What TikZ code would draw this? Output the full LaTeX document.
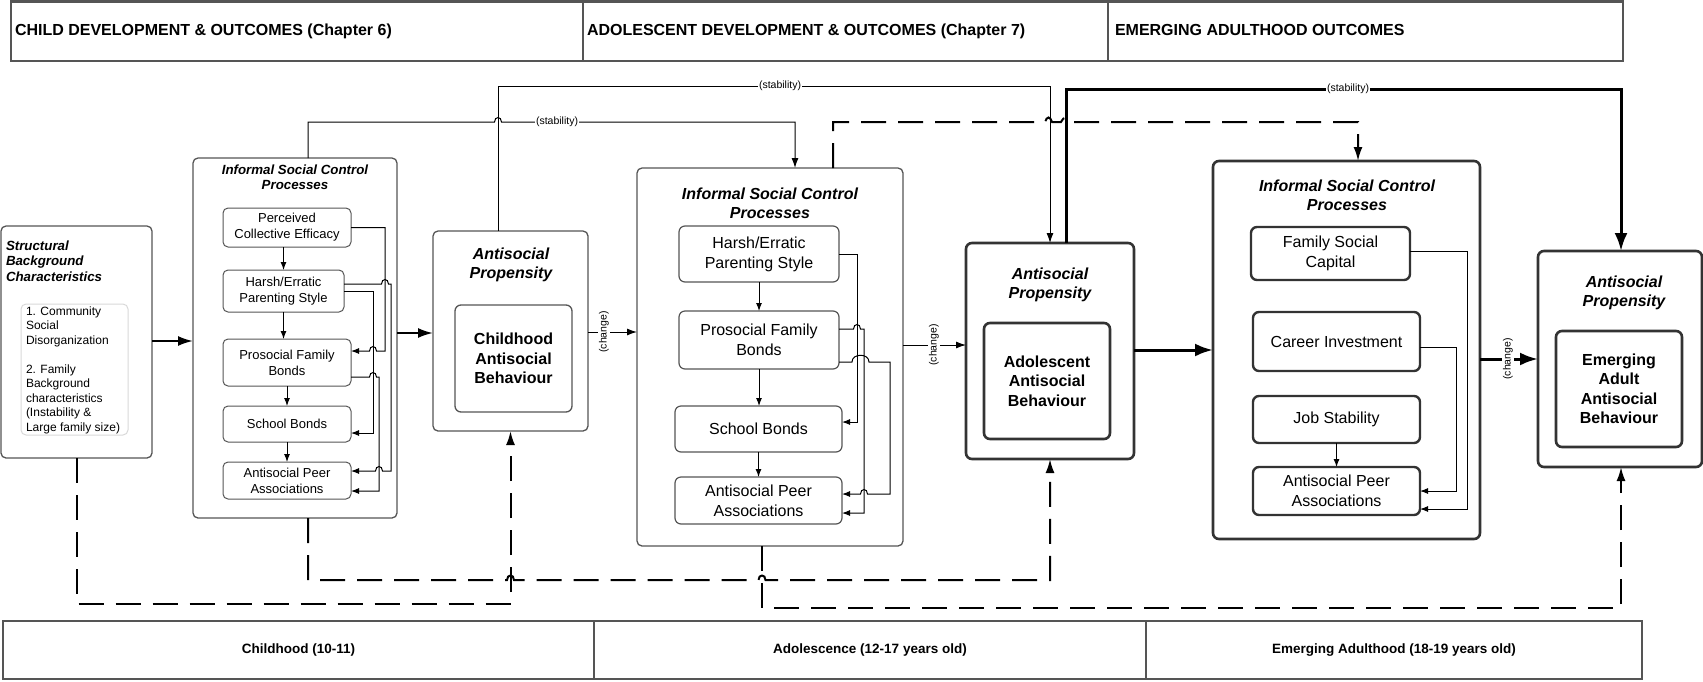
\documentclass[tikz,border=0pt]{standalone}
\usepackage{fontspec}
\setmainfont{Liberation Sans}
\usetikzlibrary{arrows.meta}
\definecolor{edgegray}{HTML}{555555}
\definecolor{darkedge}{HTML}{333333}
\definecolor{lightedge}{HTML}{D8D8D8}

\tikzset{
  every node/.style={inner sep=0pt, outer sep=0pt},
  band/.style={draw=edgegray, line width=2.6pt},
  frameA/.style={draw=edgegray, line width=1.3pt, rounded corners=5pt},
  frameB/.style={draw=darkedge, line width=2.6pt, rounded corners=6pt},
  cellA/.style={draw=edgegray, line width=1pt, rounded corners=5pt, align=center, font=\fontsize{13}{16}\selectfont},
  cellB/.style={draw=edgegray, line width=1.2pt, rounded corners=6pt, align=center, font=\fontsize{16}{20}\selectfont},
  cellC/.style={draw=darkedge, line width=2.4pt, rounded corners=6pt, align=center, font=\fontsize{16}{19.5}\selectfont},
  core/.style={align=center, font=\bfseries\fontsize{16}{19.5}\selectfont},
  ttl/.style={anchor=north, align=center, font=\bfseries\itshape\fontsize{16}{19}\selectfont},
  hdr/.style={anchor=base west, font=\bfseries\fontsize{16}{19}\selectfont},
  ftr/.style={band, font=\bfseries\fontsize{13.5}{16}\selectfont},
  lbl/.style={fill=white, inner sep=1pt, font=\fontsize{10.5}{12}\selectfont},
  fb/.style={line width=1pt, -{Latex[length=8pt,width=6pt]}},
  link/.style={line width=1pt, -{Latex[length=10pt,width=7pt]}},
  main/.style={line width=2pt, -{Latex[length=15pt,width=10pt]}},
  heavy/.style={line width=3pt, -{Latex[length=18pt,width=13pt]}},
  dashlink/.style={line width=2pt, dash pattern=on 25pt off 12pt, -{Latex[length=14pt,width=9pt]}},
  hopR/.style args={#1/#2}{insert path={-- ({#1-3.5},#2) .. controls ({#1-3.5},{#2-6}) and ({#1+3.5},{#2-6}) .. ({#1+3.5},#2)}},
  hopL/.style args={#1/#2}{insert path={-- ({#1+3.5},#2) .. controls ({#1+3.5},{#2-6}) and ({#1-3.5},{#2-6}) .. ({#1-3.5},#2)}},
}

\begin{document}
\begin{tikzpicture}[x=1pt,y=-1pt]
\useasboundingbox (0,0) rectangle (1703,681);

% ---- period headers ----
\node[band, minimum width=572pt, minimum height=59.5pt] (hdA) at (297,31.25) {};
\node[band, minimum width=525pt, minimum height=59.5pt] (hdB) at (845.5,31.25) {};
\node[band, minimum width=515pt, minimum height=59.5pt] (hdC) at (1365.5,31.25) {};
\node[hdr] (hdAtxt) at (15,35.5) {CHILD DEVELOPMENT \& OUTCOMES (Chapter 6)};
\node[hdr] (hdBtxt) at (587,35.5) {ADOLESCENT DEVELOPMENT \& OUTCOMES (Chapter 7)};
\node[hdr] (hdCtxt) at (1115,35.5) {EMERGING ADULTHOOD OUTCOMES};

% ---- age bands ----
\node[ftr, minimum width=591pt, minimum height=58pt] (ftA) at (298.5,650) {Childhood (10-11)};
\node[ftr, minimum width=552pt, minimum height=58pt] (ftB) at (870,650) {Adolescence (12-17 years old)};
\node[ftr, minimum width=496pt, minimum height=58pt] (ftC) at (1394,650) {Emerging Adulthood (18-19 years old)};

% ---- structural background ----
\node[frameA, minimum width=151pt, minimum height=232pt] (struct) at (76.5,342) {};
\node[anchor=north west, align=left, font=\bfseries\itshape\fontsize{13.3}{15.5}\selectfont] (structT) at (6,240.5) {Structural\\Background\\Characteristics};
\node[draw=lightedge, line width=1pt, rounded corners=5pt, minimum width=107pt, minimum height=131pt] (structIn) at (74.5,369.5) {};
\node[anchor=north west, align=left, font=\fontsize{12}{14.5}\selectfont] (structL) at (26,306.5) {1. Community\\Social\\Disorganization\\[14.5pt]2. Family\\Background\\characteristics\\(Instability \&\\Large family size)};

% ---- childhood informal social control ----
\node[frameA, minimum width=204pt, minimum height=360pt] (isc1) at (295,338) {};
\node[ttl, font=\bfseries\itshape\fontsize{13.3}{15.5}\selectfont] (isc1T) at (295,164.5) {Informal Social Control\\Processes};
\node[cellA, minimum width=128pt, minimum height=39pt] (pce) at (287,227.5) {Perceived\\Collective Efficacy};
\node[cellA, minimum width=121pt, minimum height=42pt] (hep1) at (283.5,291) {Harsh/Erratic\\Parenting Style};
\node[cellA, minimum width=128pt, minimum height=47pt] (pfb1) at (287,362.5) {Prosocial Family\\Bonds};
\node[cellA, minimum width=128pt, minimum height=36pt] (sb1) at (287,424) {School Bonds};
\node[cellA, minimum width=128pt, minimum height=37pt] (apa1) at (287,480.5) {Antisocial Peer\\Associations};

% ---- childhood propensity ----
\node[frameA, minimum width=155pt, minimum height=200pt] (ap1) at (510.5,331) {};
\node[ttl] (ap1T) at (511,248) {Antisocial\\Propensity};
\node[core, draw=edgegray, line width=1.3pt, rounded corners=6pt, minimum width=117pt, minimum height=107pt] (cab) at (513.5,358.5) {Childhood\\Antisocial\\Behaviour};

% ---- adolescent informal social control ----
\node[frameA, minimum width=266pt, minimum height=378pt] (isc2) at (770,357) {};
\node[ttl] (isc2T) at (770,187.5) {Informal Social Control\\Processes};
\node[cellB, minimum width=160pt, minimum height=56pt] (hep2) at (759,254) {Harsh/Erratic\\Parenting Style};
\node[cellB, minimum width=160pt, minimum height=58pt] (pfb2) at (759,340) {Prosocial Family\\Bonds};
\node[cellB, minimum width=167pt, minimum height=46pt] (sb2) at (758.5,429) {School Bonds};
\node[cellB, minimum width=167pt, minimum height=47pt] (apa2) at (758.5,500.5) {Antisocial Peer\\Associations};

% ---- adolescent propensity ----
\node[frameB, minimum width=168pt, minimum height=216pt] (ap2) at (1050,351) {};
\node[ttl] (ap2T) at (1050,268) {Antisocial\\Propensity};
\node[core, draw=darkedge, line width=2.6pt, rounded corners=6pt, minimum width=126pt, minimum height=116pt] (aab) at (1047,381) {Adolescent\\Antisocial\\Behaviour};

% ---- emerging adulthood informal social control ----
\node[frameB, minimum width=267pt, minimum height=378pt] (isc3) at (1346.5,350) {};
\node[ttl] (isc3T) at (1347,180) {Informal Social Control\\Processes};
\node[cellC, minimum width=159pt, minimum height=53pt] (fsc) at (1330.5,253.5) {Family Social\\Capital};
\node[cellC, minimum width=167pt, minimum height=59pt] (ci) at (1336.5,341.5) {Career Investment};
\node[cellC, minimum width=167pt, minimum height=47pt] (js) at (1336.5,419.5) {Job Stability};
\node[cellC, minimum width=167pt, minimum height=48pt] (apa3) at (1336.5,491) {Antisocial Peer\\Associations};

% ---- emerging adult propensity ----
\node[frameB, minimum width=164pt, minimum height=216pt] (ap3) at (1620,359) {};
\node[ttl] (ap3T) at (1624,276) {Antisocial\\Propensity};
\node[core, draw=darkedge, line width=2.6pt, rounded corners=6pt, minimum width=126pt, minimum height=116pt] (eab) at (1619,389) {Emerging\\Adult\\Antisocial\\Behaviour};

% ---- links inside childhood processes ----
\draw[fb] (pce.south -| hep1.north) -- (hep1.north);
\draw[fb] (hep1.south) -- (hep1.south |- pfb1.north);
\draw[fb] (pfb1.south) -- (sb1.north);
\draw[fb] (sb1.south) -- (apa1.north);
\draw[fb] (pce.east) -| (385,351) [hopL=373/351] -- (pfb1.east |- 0,351);
\draw[fb] (hep1.east |- 0,284) [hopR=385/284] -| (391,471) [hopL=379/471] -- (apa1.east |- 0,471);
\draw[fb] (hep1.east) -| (373,433) -- (sb1.east |- 0,433);
\draw[fb] (pfb1.east |- 0,377) [hopR=373/377] -| (379,491) -- (apa1.east |- 0,491);

% ---- links inside adolescent processes ----
\draw[fb] (hep2.south) -- (pfb2.north);
\draw[fb] (pfb2.south) -- (pfb2.south |- sb2.north);
\draw[fb] (sb2.south) -- (apa2.north);
\draw[fb] (hep2.east) -| (857,422) -- (sb2.east |- 0,422);
\draw[fb] (pfb2.east |- 0,329) [hopR=857/329] -| (864,513) -- (apa2.east |- 0,513);
\draw[fb] (pfb2.east |- 0,362) -- (852,362) .. controls (852,353) and (869,353) .. (869,362) -| (890,494) [hopL=864/494] -- (apa2.east |- 0,494);

% ---- links inside emerging adulthood processes ----
\draw[fb] (js.south) -- (apa3.north);
\draw[fb] (ci.east |- 0,347) -| (1456,491) -- (apa3.east |- 0,491);
\draw[fb] (fsc.east |- 0,251) -| (1467,509) -- (apa3.east |- 0,509);

% ---- main flow ----
\draw[main] (struct.east |- 0,341) -- (isc1.west |- 0,341);
\draw[main] (isc1.east |- 0,333) -- (ap1.west |- 0,333);
\draw[link] (ap1.east |- 0,332) -- (isc2.west |- 0,332);
\draw[link] (isc2.east |- 0,345) -- (ap2.west |- 0,345);
\draw[heavy] (ap2.east |- 0,350) -- (isc3.west |- 0,350);
\draw[heavy] (isc3.east |- 0,359) -- (ap3.west |- 0,359);

% ---- stability paths ----
\draw[link] (isc1.north -| 308,0) -- (308,122) [hopR=498/122] -| (isc2.north -| 795,0);
\draw[link] (ap1.north -| 498,0) -- (498,86) -| (ap2.north);
\draw[heavy] (ap2.north -| 1066,0) -- (1066,89) -| (ap3.north -| 1621,0);
\draw[dashlink] (isc2.north -| 833,0) -- (833,122) -- (1045,122) .. controls (1047,116) and (1050,116) .. (1052,122) -- (1061,122) .. controls (1063,116) and (1070,116) .. (1072,122) -- (1358,122) -- (isc3.north -| 1358,0);

% ---- background effects (dashed) ----
\draw[dashlink] (struct.south) -- (struct.south |- 0,604) -| (ap1.south);
\draw[dashlink] (isc1.south -| 308,0) -- (308,580) [hopR=510.5/580] [hopR=762/580] -| (ap2.south);
\draw[dashlink] (isc2.south -| 762,0) -- (762,608) -| (ap3.south -| 1621,0);

% ---- path labels ----
\node[lbl] (stabA) at (557,122) {(stability)};
\node[lbl] (stabB) at (780,86) {(stability)};
\node[lbl] (stabC) at (1348,89) {(stability)};
\node[lbl, rotate=90] (chgA) at (604,332) {(change)};
\node[lbl, rotate=90] (chgB) at (934,345) {(change)};
\node[lbl, rotate=90] (chgC) at (1508,359) {(change)};
\end{tikzpicture}
\end{document}
